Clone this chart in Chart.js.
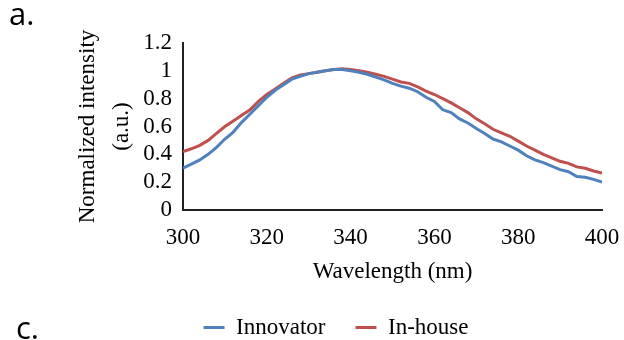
<!DOCTYPE html>
<html><head><meta charset="utf-8">
<script src="https://cdn.jsdelivr.net/npm/chart.js@4.4.0/dist/chart.umd.min.js"></script>
<style>html,body{margin:0;padding:0;background:#fff;overflow:hidden}#wrap{width:624px;height:340px}</style>
</head><body>
<div id="wrap"><canvas id="c" width="624" height="340"></canvas></div>
<script>
// Wavelength (nm)
const wavelengths = [300,302,304,306,308,310,312,314,316,318,320,322,324,326,328,330,332,334,336,338,340,342,344,346,348,350,352,354,356,358,360,362,364,366,368,370,372,374,376,378,380,382,384,386,388,390,392,394,396,398,400];
// Normalized intensity, Innovator (blue)
const innovator = [0.30,0.33,0.36,0.40,0.45,0.51,0.56,0.63,0.69,0.75,0.81,0.86,0.90,0.94,0.96,0.98,0.99,1.00,1.01,1.01,1.00,0.99,0.975,0.955,0.935,0.91,0.89,0.875,0.85,0.81,0.78,0.72,0.70,0.655,0.625,0.585,0.55,0.51,0.49,0.46,0.43,0.39,0.36,0.34,0.315,0.29,0.275,0.24,0.235,0.22,0.20];
// Normalized intensity, In-house (red)
const inHouse = [0.42,0.44,0.465,0.50,0.55,0.60,0.64,0.68,0.72,0.78,0.83,0.87,0.91,0.95,0.97,0.98,0.99,1.00,1.01,1.015,1.01,1.00,0.99,0.975,0.96,0.94,0.92,0.91,0.885,0.855,0.83,0.80,0.77,0.735,0.70,0.655,0.62,0.58,0.555,0.53,0.495,0.46,0.43,0.40,0.375,0.35,0.335,0.31,0.30,0.28,0.265];
const seriesNames = ['Innovator','In-house'];
const xTickLabels = ['300','320','340','360','380','400'];
const yTickLabels = ['0','0.2','0.4','0.6','0.8','1','1.2'];

const SERIF = 'Liberation Serif';
Chart.defaults.font.family = SERIF;
Chart.defaults.color = '#000';
const toPts = (vals) => wavelengths.map((w, i) => ({x: w, y: vals[i]}));

const panelLabels = {
  id: 'panelLabels',
  afterDraw(chart) {
    const ctx = chart.ctx;
    ctx.save();
    ctx.fillStyle = '#000';
    ctx.font = '31px "Open Sans"';
    ctx.textAlign = 'left';
    ctx.textBaseline = 'alphabetic';
    ctx.fillText('a.', 9, 25);
    ctx.fillText('c.', 16, 339);
    ctx.restore();
  }
};

new Chart(document.getElementById('c'), {
  type: 'line',
  data: {
    datasets: [
      {label: seriesNames[0], data: toPts(innovator), borderColor: '#4F81BD', backgroundColor: '#4F81BD', borderWidth: 3, pointRadius: 0, tension: 0, fill: false},
      {label: seriesNames[1], data: toPts(inHouse), borderColor: '#C0504D', backgroundColor: '#C0504D', borderWidth: 3, pointRadius: 0, tension: 0, fill: false}
    ]
  },
  options: {
    responsive: false,
    animation: false,
    events: [],
    layout: {padding: {left: 70, right: 22, top: 43, bottom: 0}},
    plugins: {
      tooltip: {enabled: false},
      legend: {
        position: 'bottom',
        maxHeight: 54,
        labels: {
          usePointStyle: true,
          pointStyle: 'line',
          pointStyleWidth: 21,
          padding: 30,
          color: '#000',
          font: {family: SERIF, size: 23}
        }
      }
    },
    scales: {
      x: {
        type: 'linear',
        min: 300, max: 400,
        afterFit: (s) => { s.height = 76; s.paddingRight = 0; s.paddingLeft = 0; },
        afterBuildTicks: (s) => { s.ticks = xTickLabels.map(v => ({value: Number(v)})); },
        grid: {display: false, drawTicks: false, tickLength: 0},
        border: {display: true, color: '#222', width: 2},
        ticks: {padding: 14, color: '#000', font: {family: SERIF, size: 23}, maxRotation: 0, autoSkip: false,
          callback: (v) => String(v)},
        title: {display: true, text: 'Wavelength (nm)', color: '#000', font: {family: SERIF, size: 23, lineHeight: 1.2}, padding: {top: 0, bottom: 0}}
      },
      y: {
        min: 0, max: 1.2,
        afterFit: (s) => { s.width = 113; },
        afterBuildTicks: (s) => { s.ticks = yTickLabels.map(v => ({value: Number(v)})); },
        grid: {display: false, drawTicks: false, tickLength: 0},
        border: {display: true, color: '#222', width: 2},
        ticks: {padding: 11, color: '#000', font: {family: SERIF, size: 23}, autoSkip: false,
          callback: (v) => { const i = yTickLabels.findIndex(t => Math.abs(Number(t) - v) < 1e-9); return i >= 0 ? yTickLabels[i] : ''; }},
        title: {display: true, text: ['Normalized intensity', '(a.u.)'], color: '#000', font: {family: SERIF, size: 23, lineHeight: 1.52}, padding: {top: 0, bottom: 0}}
      }
    }
  },
  plugins: [panelLabels]
});
</script>
</body></html>
